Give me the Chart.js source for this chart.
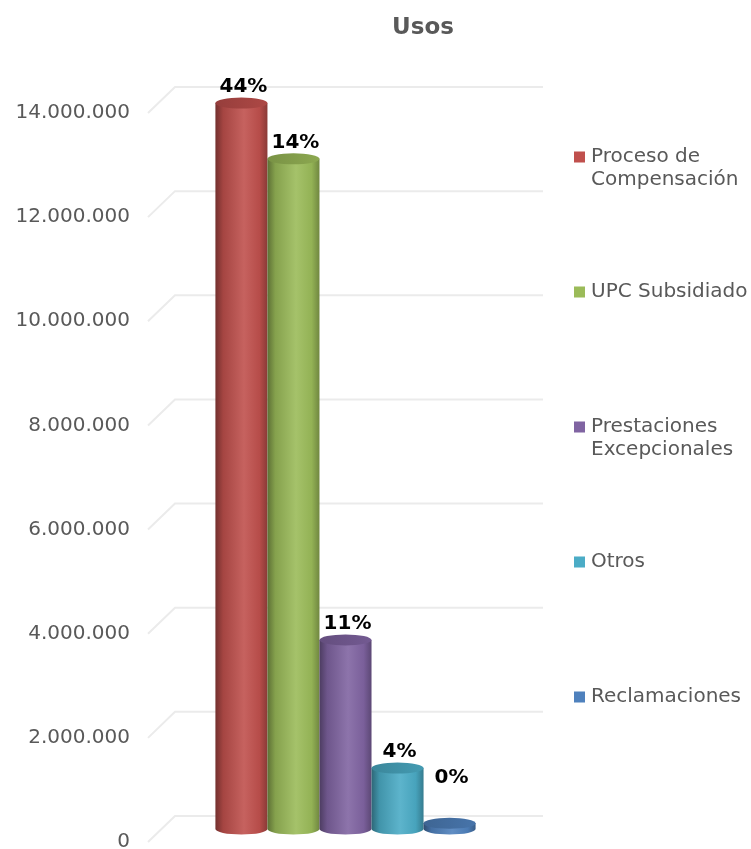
<!DOCTYPE html>
<html>
<head>
<meta charset="utf-8">
<script src="https://cdn.jsdelivr.net/npm/chart.js@4"></script>
<style>
  html, body { margin: 0; padding: 0; background: #fff; overflow: hidden; }
</style>
</head>
<body>
<canvas id="chart" width="751" height="849"></canvas>
<script>
// --- data ---
const categories = ['Usos'];
const seriesNames = ['Proceso de Compensación', 'UPC Subsidiado', 'Prestaciones Excepcionales', 'Otros', 'Reclamaciones'];
const seriesValues = [13940000, 12870000, 3630000, 1170000, 110000];
const pctLabels = ['44%', '14%', '11%', '4%', '0%'];
const seriesColors = ['#C0504D', '#9BBB59', '#8064A2', '#4BACC6', '#4F81BD'];
const yTicks = [0, 2000000, 4000000, 6000000, 8000000, 10000000, 12000000, 14000000];

const FONT = '"DejaVu Sans", Verdana, sans-serif';
const TEXT_COLOR = '#595959';
const DEPTH_X = 27, DEPTH_Y = 26;   // back wall offset

function fmtThousands(v) {
    return String(v).replace(/\B(?=(\d{3})+(?!\d))/g, '.');
}

function shade(hex, f) {
    const n = parseInt(hex.slice(1), 16);
    const r = n >> 16, g = (n >> 8) & 255, b = n & 255;
    const adj = c => f <= 1 ? Math.round(c * f) : Math.round(c + (255 - c) * (f - 1));
    return `rgb(${adj(r)},${adj(g)},${adj(b)})`;
}

// perspective grid lines (front edge -> back wall)
const perspectiveGrid = {
    id: 'perspectiveGrid',
    beforeDatasetsDraw(chart) {
        const { ctx, chartArea } = chart;
        const scale = chart.scales.y;
        ctx.save();
        ctx.strokeStyle = '#ebebeb';
        ctx.lineWidth = 2;
        yTicks.forEach(v => {
            const y = scale.getPixelForValue(v);
            ctx.beginPath();
            ctx.moveTo(chartArea.left, y);
            ctx.lineTo(chartArea.left + DEPTH_X, y - DEPTH_Y);
            ctx.lineTo(chartArea.right + DEPTH_X, y - DEPTH_Y);
            ctx.stroke();
        });
        ctx.restore();
    }
};

// cylinders + percentage labels
const cylinders = {
    id: 'cylinders',
    afterDatasetsDraw(chart) {
        const { ctx } = chart;
        const ry = 5.5;
        ctx.save();
        chart.data.datasets.forEach((ds, i) => {
            const el = chart.getDatasetMeta(i).data[0];
            if (!el) return;
            const { x, y, base, width } = el.getProps(['x', 'y', 'base', 'width'], true);
            const col = seriesColors[i];
            const cx = x + DEPTH_X / 2;
            const topY = y - DEPTH_Y / 2;
            const baseY = base - DEPTH_Y / 2;
            const rx = width / 2;

            const grad = ctx.createLinearGradient(cx - rx, 0, cx + rx, 0);
            grad.addColorStop(0, shade(col, 0.6));
            grad.addColorStop(0.15, shade(col, 0.86));
            grad.addColorStop(0.55, shade(col, 1.1));
            grad.addColorStop(0.85, shade(col, 0.95));
            grad.addColorStop(1, shade(col, 0.72));

            ctx.beginPath();
            ctx.moveTo(cx - rx, topY);
            ctx.lineTo(cx - rx, baseY);
            ctx.ellipse(cx, baseY, rx, ry, 0, Math.PI, 0, true);
            ctx.lineTo(cx + rx, topY);
            ctx.closePath();
            ctx.fillStyle = grad;
            ctx.fill();

            const topGrad = ctx.createLinearGradient(cx - rx, 0, cx + rx, 0);
            topGrad.addColorStop(0, shade(col, 0.78));
            topGrad.addColorStop(1, shade(col, 0.9));
            ctx.beginPath();
            ctx.ellipse(cx, topY, rx, ry, 0, 0, Math.PI * 2);
            ctx.fillStyle = topGrad;
            ctx.fill();

            // label
            ctx.fillStyle = '#000';
            ctx.font = `bold 20px ${FONT}`;
            ctx.textAlign = 'center';
            ctx.textBaseline = 'middle';
            const ly = Math.min(topY - 16, baseY - 51);
            ctx.fillText(pctLabels[i], cx + 2, ly);
        });
        ctx.restore();
    }
};

// title + right-hand legend with wrapping
const sideLegend = {
    id: 'sideLegend',
    afterDraw(chart) {
        const { ctx } = chart;
        ctx.save();
        ctx.fillStyle = TEXT_COLOR;
        ctx.font = `bold 23px ${FONT}`;
        ctx.textAlign = 'center';
        ctx.textBaseline = 'middle';
        ctx.fillText(categories[0], 423, 28);

        ctx.font = `20px ${FONT}`;
        ctx.textAlign = 'left';
        const maxW = 158;
        chart.data.datasets.forEach((ds, i) => {
            const y0 = 157 + 135 * i;
            ctx.fillStyle = seriesColors[i];
            ctx.fillRect(574, y0 - 5.5, 11, 11);

            const words = ds.label.split(' ');
            const lines = [];
            let cur = '';
            words.forEach(w => {
                const test = cur ? cur + ' ' + w : w;
                if (ctx.measureText(test).width > maxW && cur) {
                    lines.push(cur);
                    cur = w;
                } else {
                    cur = test;
                }
            });
            lines.push(cur);
            ctx.fillStyle = TEXT_COLOR;
            lines.forEach((ln, k) => ctx.fillText(ln, 591, y0 + k * 23));
        });
        ctx.restore();
    }
};

new Chart(document.getElementById('chart').getContext('2d'), {
    type: 'bar',
    data: {
        labels: categories,
        datasets: seriesNames.map((name, i) => ({
            label: name,
            data: [seriesValues[i]],
            backgroundColor: 'rgba(0,0,0,0)',
            borderWidth: 0,
            categoryPercentage: 0.707,
            barPercentage: 1
        }))
    },
    options: {
        responsive: false,
        animation: false,
        devicePixelRatio: 1,
        layout: { padding: { left: 16, top: 113, right: 235, bottom: 7 } },
        plugins: {
            legend: { display: false },
            title: { display: false },
            tooltip: { enabled: false }
        },
        scales: {
            x: { display: false },
            y: {
                min: 0,
                max: 14000000,
                afterBuildTicks: s => { s.ticks = yTicks.map(v => ({ value: v })); },
                afterFit: s => { s.width = 132; s.paddingTop = 0; s.paddingBottom = 0; },
                grid: { display: false, drawTicks: false },
                border: { display: false },
                ticks: {
                    padding: 18,
                    color: TEXT_COLOR,
                    font: { family: FONT, size: 20 },
                    callback: v => fmtThousands(v)
                }
            }
        }
    },
    plugins: [perspectiveGrid, cylinders, sideLegend]
});
</script>
</body>
</html>
